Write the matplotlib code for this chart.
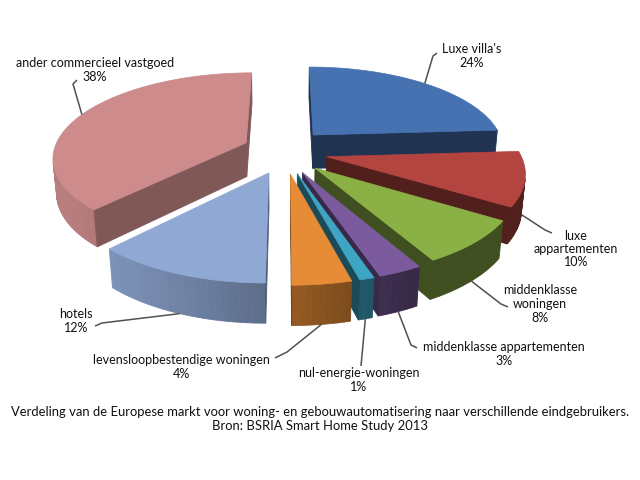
import numpy as np
import matplotlib.pyplot as plt
from matplotlib.colors import to_rgb
from matplotlib.patches import Polygon

plt.rcParams['font.family'] = ['Lato', 'DejaVu Sans']

# data, clockwise from 12 o'clock
labels = ["Luxe villa's", "luxe\nappartementen", "middenklasse\nwoningen",
          "middenklasse appartementen", "nul-energie-woningen",
          "levensloopbestendige woningen", "hotels", "ander commercieel vastgoed"]
shares = [24, 10, 8, 3, 1, 4, 12, 38]
top_colors = ['#4672b1', '#b4443f', '#8bb046', '#7b5b9d', '#3ea6c4',
              '#e68b36', '#8fa8d4', '#cd8b8b']
cut_shade = [0.45, 0.45, 0.45, 0.45, 0.45, 0.5, 0.55, 0.63]

caption = ("Verdeling van de Europese markt voor woning- en gebouwautomatisering "
           "naar verschillende eindgebruikers.\nBron: BSRIA Smart Home Study 2013")

# label placement (pixels): text centre, start of leader, elbow of leader
label_pos = [(472, 56), (576, 249), (540, 304), (504, 354), (359, 380),
             (181, 367), (76, 321), (95, 70)]
line_start = [(437, 53), (552, 233), (508, 307), (417, 348), (361, 366),
              (275, 358), (95, 326), (77, 80)]
line_elbow = [(433, 56), (545, 230), (501, 304), (411, 345), (361, 366),
              (287, 352), (102, 323), (73, 84)]

# 3d view
ELEV = np.radians(25.8)
DIST = 5.5
FOCAL = 1060
CX, CY = 285, 151
HEIGHT = 0.2
EXPLODE_X, EXPLODE_Y = 0.22, 0.27
cosE, sinE = np.cos(ELEV), np.sin(ELEV)
cam = np.array([0, -DIST * cosE, DIST * sinE])
light = np.array([-0.9, -0.44])
light = light / np.linalg.norm(light)


def project(x, y, z):
    depth = DIST + y * cosE - z * sinE
    return CX + FOCAL * x / depth, CY - FOCAL * (y * sinE + z * cosE) / depth


def shade(color, k):
    return tuple(np.array(to_rgb(color)) * k)


def facing(p, n):
    return np.dot(cam - np.array(p), np.array(n)) > 0


fig = plt.figure(figsize=(6.4, 4.8), dpi=100)
ax = fig.add_axes([0, 0, 1, 1])
ax.set_xlim(0, 640)
ax.set_ylim(480, 0)
ax.axis('off')

bounds = np.concatenate([[0], np.cumsum(shares)]) / sum(shares) * 360
slices = []
for i in range(len(shares)):
    a0, a1 = bounds[i], bounds[i + 1]
    m = np.radians((a0 + a1) / 2)
    ox, oy = EXPLODE_X * np.sin(m), EXPLODE_Y * np.cos(m)
    slices.append((oy, i, np.radians(a0), np.radians(a1), ox))

for oy, i, a0, a1, ox in sorted(slices, reverse=True):
    col = top_colors[i]
    t = np.linspace(a0, a1, max(int(np.degrees(a1 - a0) / 1.5), 2) + 1)
    # outer curved side
    for k in range(len(t) - 1):
        tm = (t[k] + t[k + 1]) / 2
        n = (np.sin(tm), np.cos(tm), 0)
        if not facing((ox + n[0], oy + n[1], 0), n):
            continue
        kf = 0.45 + 0.45 * max(0, n[0] * light[0] + n[1] * light[1])
        pts = [project(ox + np.sin(t[k]), oy + np.cos(t[k]), 0),
               project(ox + np.sin(t[k + 1]), oy + np.cos(t[k + 1]), 0),
               project(ox + np.sin(t[k + 1]), oy + np.cos(t[k + 1]), -HEIGHT),
               project(ox + np.sin(t[k]), oy + np.cos(t[k]), -HEIGHT)]
        c = shade(col, kf)
        ax.add_patch(Polygon(pts, closed=True, fc=c, ec=c, lw=0.6))
    # radial cut faces
    for a, n in ((a0, (-np.cos(a0), np.sin(a0), 0)), (a1, (np.cos(a1), -np.sin(a1), 0))):
        if not facing((ox, oy, 0), n):
            continue
        pts = [project(ox, oy, 0), project(ox + np.sin(a), oy + np.cos(a), 0),
               project(ox + np.sin(a), oy + np.cos(a), -HEIGHT),
               project(ox, oy, -HEIGHT)]
        c = shade(col, cut_shade[i])
        ax.add_patch(Polygon(pts, closed=True, fc=c, ec=c, lw=0.6))
    # top face
    pts = [project(ox, oy, 0)] + [project(ox + np.sin(a), oy + np.cos(a), 0) for a in t]
    ax.add_patch(Polygon(pts, closed=True, fc=col, ec=col, lw=0.5))

# labels and leader lines
for i, (oy, _, a0, a1, ox) in enumerate(slices):
    m = (a0 + a1) / 2
    z = 0 if np.cos(m) > 0 else -HEIGHT
    end = project(ox + np.sin(m), oy + np.cos(m), z)
    xs = [line_start[i][0], line_elbow[i][0], end[0]]
    ys = [line_start[i][1], line_elbow[i][1], end[1]]
    ax.plot(xs, ys, color='#505050', lw=1.1, solid_capstyle='butt')
    ax.text(label_pos[i][0], label_pos[i][1], f"{labels[i]}\n{shares[i]}%",
            ha='center', va='center', fontsize=9, color='#111111', linespacing=1.15)

ax.text(320, 419, caption, ha='center', va='center', fontsize=9.4,
        color='#111111', linespacing=1.15)

fig.savefig('out.png', dpi=100, facecolor='white')
